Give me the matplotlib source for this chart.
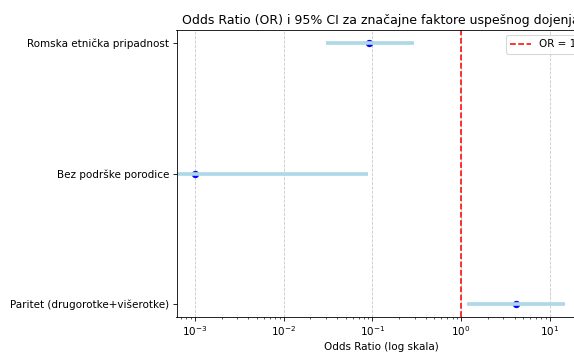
import numpy as np
import matplotlib
matplotlib.use('agg')
import matplotlib.pyplot as plt

factors = ['Paritet (drugorotke+višerotke)', 'Bez podrške porodice', 'Romska etnička pripadnost']
odds_ratio = [4.17, 0.001, 0.091]
ci_low = [1.17, 0.0, 0.030]
ci_high = [14.8, 0.089, 0.294]

DPI = 75
fig = plt.figure(figsize=(574 / DPI, 353 / DPI), dpi=DPI)
ax = fig.add_axes([176.5 / 574, 36 / 353, 409.5 / 574, 287 / 353])

y = np.arange(len(factors))
# dot first so the CI band lies on top of it, as in the reference
ax.plot(odds_ratio, y, 'o', color='blue', markersize=6)
ax.hlines(y, ci_low, ci_high, color='lightblue', linewidth=3.5)
ax.axvline(1, color='red', linestyle='--', label='OR = 1')

ax.set_xscale('log')
ax.set_xlim(10 ** -3.209, 10 ** 1.408)
ax.set_yticks(y)
ax.set_yticklabels(factors)
ax.set_xlabel('Odds Ratio (log skala)')
ax.set_title('Odds Ratio (OR) i 95% CI za značajne faktore uspešnog dojenja')
ax.grid(axis='x', linestyle='--', alpha=0.7)
ax.legend(loc='upper right')

fig.savefig('out.png', dpi=DPI)
